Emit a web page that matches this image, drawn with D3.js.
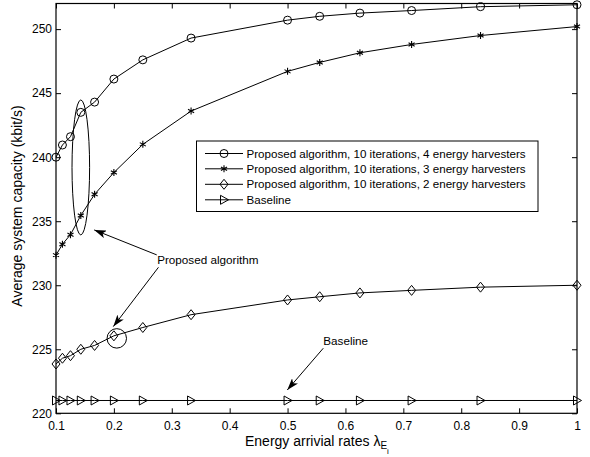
<!DOCTYPE html>
<html><head><meta charset="utf-8">
<script src="https://cdn.jsdelivr.net/npm/d3@7"></script>
<style>body{margin:0;background:#fff}svg{display:block}text{font-family:"Liberation Sans",Arial,sans-serif}</style>
</head><body><svg id="c" width="590" height="457"></svg>
<script>
const xValues = [0.1, 1/9, 0.125, 1/7, 1/6, 0.2, 0.25, 1/3, 0.5, 5/9, 0.625, 5/7, 5/6, 1];
const harv4 = [240.0, 240.95, 241.6, 243.5, 244.3, 246.1, 247.6, 249.3, 250.7, 251.0, 251.25, 251.45, 251.75, 251.9];
const harv3 = [232.35, 233.2, 233.95, 235.45, 237.1, 238.8, 241.0, 243.6, 246.7, 247.4, 248.15, 248.8, 249.5, 250.2];
const harv2 = [223.85, 224.3, 224.5, 225.0, 225.3, 226.05, 226.7, 227.7, 228.85, 229.1, 229.4, 229.6, 229.85, 230.0];
const baseline = [221, 221, 221, 221, 221, 221, 221, 221, 221, 221, 221, 221, 221, 221];
const seriesNames = ["Proposed algorithm, 10 iterations, 4 energy harvesters",
  "Proposed algorithm, 10 iterations, 3 energy harvesters",
  "Proposed algorithm, 10 iterations, 2 energy harvesters",
  "Baseline"];
const seriesMarkers = ["circle", "star", "diamond", "triangle"];
const xTicks = [0.1,0.2,0.3,0.4,0.5,0.6,0.7,0.8,0.9,1];
const xTickLabels = ["0.1","0.2","0.3","0.4","0.5","0.6","0.7","0.8","0.9","1"];
const yTicks = [220,225,230,235,240,245,250];
const yTickLabels = ["220","225","230","235","240","245","250"];

const svg = d3.select("#c");
const L=56, R=577, T=3.5, B=413.3;
const x = d3.scaleLinear().domain([0.1,1]).range([L,R]);
const y = d3.scaleLinear().domain([220,252]).range([B,T]);

const tl = 5;
svg.append("g").attr("transform",`translate(0,${B})`)
  .call(d3.axisBottom(x).tickValues(xTicks).tickFormat((d,i)=>xTickLabels[i]).tickSizeInner(-tl).tickSizeOuter(0).tickPadding(8))
  .call(g=>{g.select(".domain").remove();g.selectAll("text").attr("font-size",12).attr("fill","#000");g.selectAll("line").attr("stroke","#000");});
svg.append("g").attr("transform",`translate(0,${T})`)
  .call(d3.axisTop(x).tickValues(xTicks).tickFormat("").tickSizeInner(-tl).tickSizeOuter(0))
  .call(g=>{g.select(".domain").remove();g.selectAll("line").attr("stroke","#000");});
svg.append("g").attr("transform",`translate(${L},0)`)
  .call(d3.axisLeft(y).tickValues(yTicks).tickFormat((d,i)=>yTickLabels[i]).tickSizeInner(-tl).tickSizeOuter(0).tickPadding(4))
  .call(g=>{g.select(".domain").remove();g.selectAll("text").attr("font-size",12).attr("fill","#000");g.selectAll("line").attr("stroke","#000");});
svg.append("g").attr("transform",`translate(${R},0)`)
  .call(d3.axisRight(y).tickValues(yTicks).tickFormat("").tickSizeInner(-tl).tickSizeOuter(0))
  .call(g=>{g.select(".domain").remove();g.selectAll("line").attr("stroke","#000");});
svg.append("rect").attr("x",L).attr("y",T).attr("width",R-L).attr("height",B-T)
  .attr("fill","none").attr("stroke","#000").attr("stroke-width",1.2);

svg.append("text").attr("transform","translate(22,206) rotate(-90)").attr("text-anchor","middle")
  .attr("font-size",14).text("Average system capacity (kbit/s)");
const xl = svg.append("text").attr("x",245).attr("y",446).attr("font-size",14);
xl.append("tspan").text("Energy arrivial rates λ");
xl.append("tspan").attr("font-size",10).attr("dy",3).text("E");
xl.append("tspan").attr("font-size",8).attr("dy",5).text("i");

function drawMarker(g, type, cx, cy){
  if(type==="circle") g.append("circle").attr("cx",cx).attr("cy",cy).attr("r",4).attr("fill","none").attr("stroke","#000");
  else if(type==="diamond") g.append("path").attr("d",`M${cx},${cy-5}L${cx+4},${cy}L${cx},${cy+5}L${cx-4},${cy}Z`).attr("fill","none").attr("stroke","#000");
  else if(type==="triangle") g.append("path").attr("d",`M${cx-3.5},${cy-4.5}L${cx+4.5},${cy}L${cx-3.5},${cy+4.5}Z`).attr("fill","none").attr("stroke","#000");
  else if(type==="star"){
    const r=3.5;
    g.append("path").attr("d",`M${cx},${cy-r}V${cy+r}M${cx-r*0.87},${cy-r*0.5}L${cx+r*0.87},${cy+r*0.5}M${cx-r*0.87},${cy+r*0.5}L${cx+r*0.87},${cy-r*0.5}`)
      .attr("stroke","#000").attr("stroke-width",1.1);
  }
}

const allSeries = [harv4, harv3, harv2, baseline];
const line = d3.line().x((d,i)=>x(xValues[i])).y(d=>y(d));
allSeries.forEach((vals,k)=>{
  const g = svg.append("g");
  g.append("path").datum(vals).attr("d",line).attr("fill","none").attr("stroke","#000").attr("stroke-width",1);
  vals.forEach((v,i)=>drawMarker(g, seriesMarkers[k], x(xValues[i]), y(v)));
});

const lg = svg.append("g");
lg.append("rect").attr("x",196.5).attr("y",141).attr("width",341.5).attr("height",70.5).attr("fill","#fff").attr("stroke","#000");
const rowY = [153.5,168.8,184.3,199.8];
seriesNames.forEach((n,k)=>{
  lg.append("line").attr("x1",205).attr("x2",243).attr("y1",rowY[k]).attr("y2",rowY[k]).attr("stroke","#000");
  drawMarker(lg, seriesMarkers[k], 224, rowY[k]);
  lg.append("text").attr("x",246.5).attr("y",rowY[k]+4).attr("font-size",11.6).text(n);
});

const defs = svg.append("defs");
defs.append("marker").attr("id","ah").attr("viewBox","0 0 12 8").attr("refX",12).attr("refY",4)
  .attr("markerWidth",12).attr("markerHeight",8).attr("markerUnits","userSpaceOnUse").attr("orient","auto")
  .append("path").attr("d","M0,0L12,4L0,8L3,4Z").attr("fill","#000");

const ellipseAnn = {cx:1/7, cy:239.2, rx:0.0152, ry:5.27};
svg.append("ellipse").attr("cx",x(ellipseAnn.cx)).attr("cy",y(ellipseAnn.cy))
  .attr("rx",x(ellipseAnn.cx+ellipseAnn.rx)-x(ellipseAnn.cx)).attr("ry",y(ellipseAnn.cy-ellipseAnn.ry)-y(ellipseAnn.cy))
  .attr("fill","none").attr("stroke","#000");
const circleAnn = {cx:0.205, cy:225.85, r:0.0168};
svg.append("circle").attr("cx",x(circleAnn.cx)).attr("cy",y(circleAnn.cy))
  .attr("r",x(circleAnn.cx+circleAnn.r)-x(circleAnn.cx)).attr("fill","none").attr("stroke","#000");

const arrows = [
  {x1:0.274,y1:232.37,x2:0.166,y2:234.32},
  {x1:0.277,y1:231.4,x2:0.199,y2:226.77},
  {x1:0.5617,y1:225.08,x2:0.4995,y2:221.82}
];
arrows.forEach(a=>svg.append("line").attr("x1",x(a.x1)).attr("y1",y(a.y1)).attr("x2",x(a.x2)).attr("y2",y(a.y2))
  .attr("stroke","#000").attr("marker-end","url(#ah)"));
const labels = [
  {t:"Proposed algorithm", x:0.2747, y:231.98},
  {t:"Baseline", x:0.5617, y:225.67}
];
labels.forEach(l=>svg.append("text").attr("x",x(l.x)).attr("y",y(l.y)).attr("dy","0.35em").attr("font-size",11.7).text(l.t));
</script></body></html>
